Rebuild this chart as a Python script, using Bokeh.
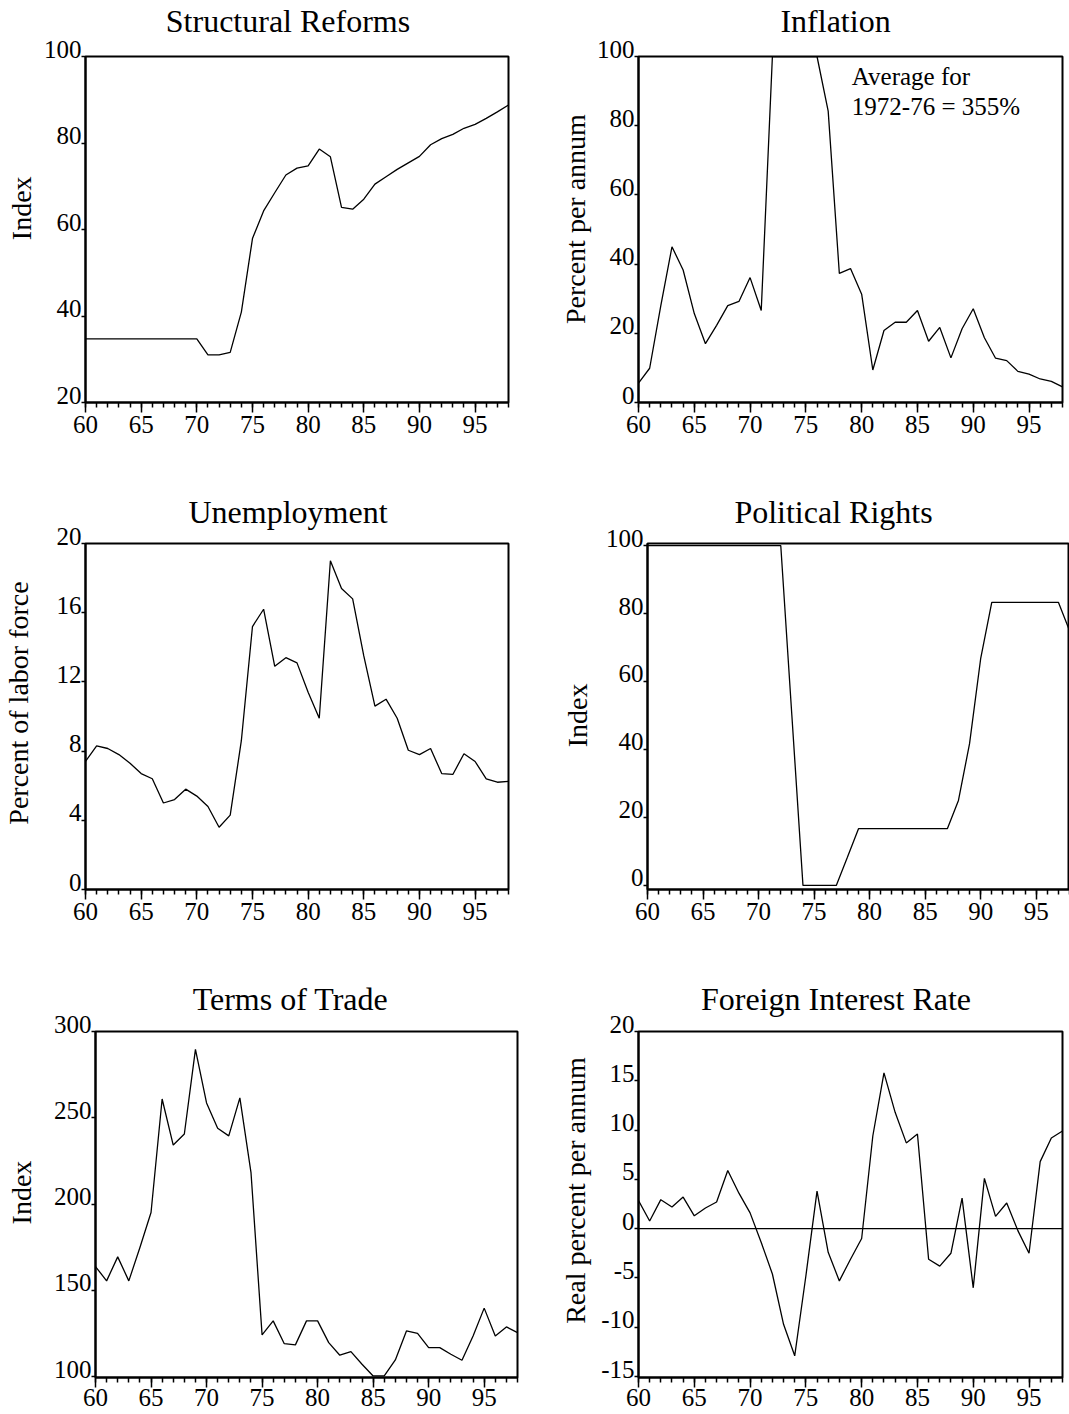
import math
from bokeh.plotting import figure
from bokeh.layouts import column, row
from bokeh.models import FixedTicker, Range1d, Span, ColumnDataSource
from bokeh.core.properties import value
from bokeh.embed import file_html
from bokeh.resources import INLINE

FONT = "Liberation Serif"

years = list(range(60, 99))
x_major = [60, 65, 70, 75, 80, 85, 90, 95]

reforms = [34.7, 34.7, 34.7, 34.7, 34.7, 34.7, 34.7, 34.7, 34.7, 34.7, 34.7,
           31.0, 31.0, 31.6, 40.9, 57.9, 64.3, 68.5, 72.6, 74.2, 74.7, 78.6,
           76.8, 65.1, 64.7, 67.0, 70.5, 72.2, 73.9, 75.4, 76.9, 79.6, 81.0,
           82.0, 83.4, 84.3, 85.7, 87.2, 88.8]
inflation = [5.6, 9.9, 28.0, 45.0, 38.3, 25.7, 17.0, 22.3, 28.0, 29.2, 36.1,
             26.6, 100, 100, 100, 100, 100, 84.2, 37.3, 38.7, 31.3, 9.4, 20.8,
             23.2, 23.2, 26.6, 17.7, 21.7, 12.9, 21.3, 27.1, 18.7, 12.8, 12.1,
             9.0, 8.2, 6.8, 6.1, 4.5]
unemployment = [7.4, 8.3, 8.15, 7.8, 7.3, 6.7, 6.4, 5.0, 5.2, 5.8, 5.4, 4.8,
                3.6, 4.3, 8.6, 15.2, 16.2, 12.9, 13.4, 13.1, 11.4, 9.9, 19.0,
                17.4, 16.8, 13.5, 10.6, 11.0, 9.9, 8.05, 7.8, 8.15, 6.7, 6.65,
                7.85, 7.4, 6.4, 6.2, 6.25]
political = [100, 100, 100, 100, 100, 100, 100, 100, 100, 100, 100, 100, 100,
             50, 0, 0, 0, 0, 8.3, 16.7, 16.7, 16.7, 16.7, 16.7, 16.7, 16.7,
             16.7, 16.7, 25.0, 41.7, 66.7, 83.3, 83.3, 83.3, 83.3, 83.3, 83.3,
             83.3, 75.0]
terms = [163.8, 155.5, 169.4, 155.5, 174.8, 195.1, 260.9, 234.2, 240.6, 289.6,
         258.6, 243.9, 239.5, 261.5, 218.4, 124.2, 132.3, 119.1, 118.4, 132.3,
         132.3, 119.7, 112.4, 114.5, 107.2, 100.4, 100.4, 109.7, 126.5, 125.1,
         116.8, 116.8, 113.0, 109.5, 123.6, 139.7, 123.6, 128.8, 125.5]
foreign = [2.84, 0.78, 2.94, 2.2, 3.2, 1.3, 2.1, 2.7, 5.9, 3.6, 1.6, -1.4,
           -4.6, -9.7, -12.9, -4.8, 3.8, -2.4, -5.3, -3.1, -1.0, 9.4, 15.8,
           11.8, 8.7, 9.6, -3.1, -3.8, -2.5, 3.1, -6.0, 5.1, 1.25, 2.6, -0.2,
           -2.5, 6.8, 9.2, 9.9]

ticks_reforms = [20, 40, 60, 80, 100]
labels_reforms = ["20", "40", "60", "80", "100"]
ticks_pct100 = [0, 20, 40, 60, 80, 100]
labels_pct100 = ["0", "20", "40", "60", "80", "100"]
ticks_unemp = [0, 4, 8, 12, 16, 20]
labels_unemp = ["0", "4", "8", "12", "16", "20"]
ticks_terms = [100, 150, 200, 250, 300]
labels_terms = ["100", "150", "200", "250", "300"]
ticks_foreign = [-15, -10, -5, 0, 5, 10, 15, 20]
labels_foreign = ["-15", "-10", "-5", "0", "5", "10", "15", "20"]

X_START, X_END = 60, 98


def txt(p, x, y, s, size, **kw):
    p.text(x=x, y=y, text=s, text_font=value(FONT),
           text_font_size=value(size), text_color="black", level="overlay",
           **kw)


def panel(title, title_x, title_dy, ylabel, ylab_y, ylab_dx, ydata, yr,
          yticks, ylabels, w, h, bl, br, bt, bb, xstand):
    p = figure(width=w, height=h, x_range=Range1d(X_START, X_END),
               y_range=Range1d(*yr), output_backend="svg", title=None,
               toolbar_location=None, min_border_left=bl,
               min_border_right=br, min_border_top=bt, min_border_bottom=bb)
    p.line(years, ydata, line_color="black", line_width=1.3)
    p.xgrid.visible = False
    p.ygrid.visible = False
    p.outline_line_color = "black"
    p.outline_line_width = 2
    p.outline_line_alpha = 1
    p.background_fill_color = "white"
    p.border_fill_color = "white"

    xa = p.xaxis[0]
    xa.ticker = FixedTicker(ticks=x_major, minor_ticks=years)
    xa.axis_line_width = 2
    xa.axis_line_color = "black"
    xa.major_tick_out = 10
    xa.major_tick_in = 0
    xa.minor_tick_out = 5
    xa.minor_tick_in = 0
    xa.major_tick_line_width = 1.5
    xa.minor_tick_line_width = 1.5
    xa.major_tick_line_color = "black"
    xa.minor_tick_line_color = "black"
    xa.major_label_standoff = xstand
    xa.major_label_text_font = FONT
    xa.major_label_text_font_size = "25px"
    xa.major_label_text_color = "black"

    ya = p.yaxis[0]
    ya.ticker = FixedTicker(ticks=yticks, minor_ticks=[])
    ya.axis_line_width = 2
    ya.axis_line_color = "black"
    ya.major_tick_out = 4
    ya.major_tick_in = 0
    ya.minor_tick_out = 0
    ya.minor_tick_in = 0
    ya.major_tick_line_width = 1.5
    ya.major_tick_line_color = "black"
    ya.major_label_standoff = 0
    ya.major_label_overrides = {t: "" for t in yticks}

    # title above the frame
    txt(p, [title_x], [yr[1]], [title], "32px", y_offset=title_dy,
        text_align="center", text_baseline="alphabetic")
    # y tick labels sitting just above their ticks
    src = ColumnDataSource(dict(x=[X_START] * len(yticks), y=yticks,
                                t=ylabels))
    txt(p, "x", "y", "t", "25px", source=src, x_offset=-4, y_offset=-7.5,
        text_align="right", text_baseline="alphabetic")
    # rotated y-axis title
    txt(p, [X_START], [ylab_y], [ylabel], "28px", angle=math.pi / 2,
        x_offset=ylab_dx, text_align="center", text_baseline="alphabetic")
    return p


p1 = panel("Structural Reforms", 78.19, -36, "Index", 64.9, -64, reforms,
           (20, 100), ticks_reforms, labels_reforms,
           560, 470, 85, 52, 56, 68, 3)
p2 = panel("Inflation", 77.66, -36, "Percent per annum", 53.0, -63.5,
           inflation, (0, 100), ticks_pct100, labels_pct100,
           509, 470, 78, 7, 56, 68, 3)
txt(p2, [79.12, 79.12], [94.34, 85.66], ["Average for", "1972-76 = 355%"],
    "25px", text_align="left", text_baseline="alphabetic")

p3 = panel("Unemployment", 78.19, -32, "Percent of labor force", 10.78, -67,
           unemployment, (0, 20), ticks_unemp, labels_unemp,
           560, 490, 85, 52, 73, 71, 3)
p4 = panel("Political Rights", 76.75, -32, "Index", 50.0, -70.5, political,
           (-1.2, 100.6), ticks_pct100, labels_pct100,
           509, 490, 87, 0, 73, 71, 3)

p5 = panel("Terms of Trade", 77.56, -33, "Index", 206.7, -74, terms,
           (99.5, 300), ticks_terms, labels_terms,
           560, 454, 95, 43, 71, 37, 1)
p6 = panel("Foreign Interest Rate", 77.70, -33, "Real percent per annum",
           3.87, -63, foreign, (-15.1, 20), ticks_foreign, labels_foreign,
           509, 454, 78, 7, 71, 37, 1)
p6.add_layout(Span(location=0, dimension="width", line_color="black",
                   line_width=1.2))

layout = column(row(p1, p2), row(p3, p4), row(p5, p6))
open("out.html", "w").write(file_html(layout, INLINE))
